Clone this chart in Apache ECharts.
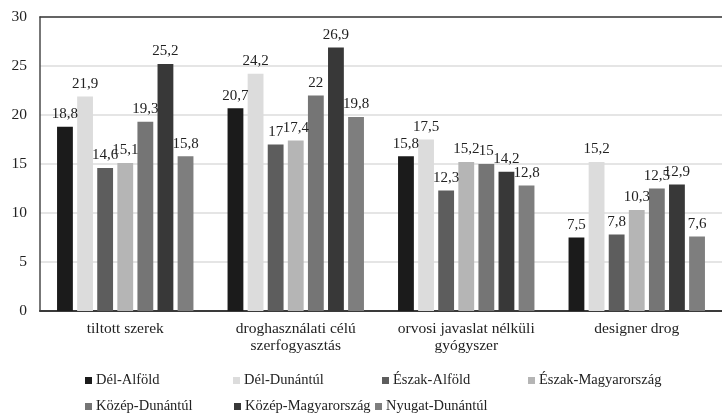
<!DOCTYPE html>
<html lang="hu">
<head>
    <meta charset="UTF-8">
    <title>Régiók</title>
    <script src="https://cdn.jsdelivr.net/npm/echarts@6/dist/echarts.min.js"></script>
    <style>
        html, body { margin: 0; padding: 0; background: #fff; }
        #charts { width: 722px; height: 417px; }
    </style>
</head>
<body>
<div id="charts"></div>
<script>
    // adatok
    var categories = ['tiltott szerek', 'droghasználati célú\nszerfogyasztás', 'orvosi javaslat nélküli\ngyógyszer', 'designer drog'];
    var regions = ['Dél-Alföld', 'Dél-Dunántúl', 'Észak-Alföld', 'Észak-Magyarország', 'Közép-Dunántúl', 'Közép-Magyarország', 'Nyugat-Dunántúl'];
    var delAlfold = [18.8, 20.7, 15.8, 7.5];
    var delDunantul = [21.9, 24.2, 17.5, 15.2];
    var eszakAlfold = [14.6, 17, 12.3, 7.8];
    var eszakMagyar = [15.1, 17.4, 15.2, 10.3];
    var kozepDunantul = [19.3, 22, 15, 12.5];
    var kozepMagyar = [25.2, 26.9, 14.2, 12.9];
    var nyugatDunantul = [15.8, 19.8, 12.8, 7.6];
    var yTicks = [0, 5, 10, 15, 20, 25, 30];

    var values = [delAlfold, delDunantul, eszakAlfold, eszakMagyar, kozepDunantul, kozepMagyar, nyugatDunantul];
    var colors = ['#1b1b1b', '#dcdcdc', '#5d5d5d', '#b5b5b5', '#757575', '#383838', '#7e7e7e'];
    var font = 'Liberation Serif';

    // legend helyek (Excel-szerű elrendezés)
    var legendPos = [[85, 373], [233, 373], [382, 373], [528, 373], [85, 399], [234, 399], [375, 399]];

    var myChart = echarts.init(document.getElementById('charts'));

    var series = regions.map(function (name, i) {
        return {
            name: name,
            type: 'bar',
            data: values[i],
            barGap: '27%',
            barCategoryGap: '20%',
            itemStyle: { color: colors[i] },
            label: {
                show: true,
                position: 'top',
                distance: 5,
                fontFamily: font,
                fontSize: 15,
                color: '#222',
                formatter: function (p) { return String(p.value).replace('.', ','); }
            }
        };
    });

    var legends = regions.map(function (name, i) {
        return {
            data: [name],
            left: legendPos[i][0],
            top: legendPos[i][1],
            padding: 0,
            icon: 'rect',
            itemWidth: 7,
            itemHeight: 7,
            selectedMode: false,
            textStyle: { fontFamily: font, fontSize: 14.5, color: '#222', padding: [0, 0, 0, -1] }
        };
    });

    myChart.setOption({
        animation: false,
        color: colors,
        legend: legends,
        grid: { left: 40, right: -7, top: 17, bottom: 106, containLabel: false },
        xAxis: [{
            type: 'category',
            data: categories,
            axisLine: { lineStyle: { color: '#3a3a3a', width: 2 } },
            axisTick: { show: false },
            axisLabel: { fontFamily: font, fontSize: 15.5, color: '#222', margin: 9, lineHeight: 17, interval: 0 }
        }, {
            type: 'category',
            position: 'top',
            data: categories,
            axisLine: { lineStyle: { color: '#3a3a3a', width: 1.5 } },
            axisTick: { show: false },
            axisLabel: { show: false }
        }],
        yAxis: {
            type: 'value',
            min: yTicks[0],
            max: yTicks[yTicks.length - 1],
            interval: 5,
            axisLine: { show: true, lineStyle: { color: '#4a4a4a', width: 1.5 } },
            axisTick: { show: false },
            axisLabel: { fontFamily: font, fontSize: 15.5, color: '#222', margin: 13 },
            splitLine: { lineStyle: { color: '#dcdcdc', width: 1.5 } }
        },
        series: series
    });
</script>
</body>
</html>
